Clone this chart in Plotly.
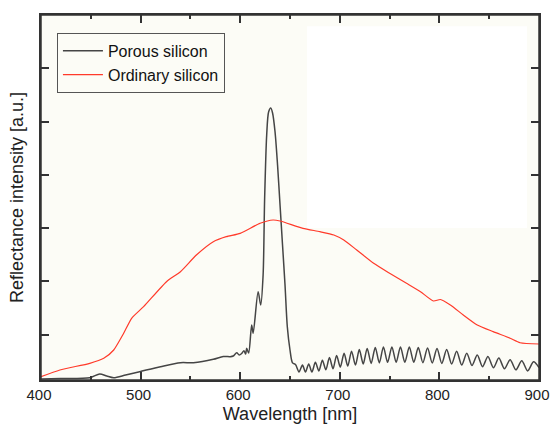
import plotly.graph_objects as go

# Porous silicon (wavelength nm, reflectance a.u.)
porous_wl = [400, 420, 449, 459, 466, 473, 485, 499, 520, 540, 553, 573, 583, 590, 593,
             596.5, 599, 601.5, 603.8, 605.5, 606.5, 608.5, 611.5, 613, 618, 620.6,
             623, 624.5, 626.6, 628.5, 630.7, 632.5, 635, 637.5, 640, 642.5, 645, 647.3,
             650, 652.5, 655.5, 659, 662.5, 665.5, 668.8, 672, 675.5, 679, 682.5, 686,
             689.6, 693.2, 696.8, 700.5, 704.3, 708, 711.8, 715.7, 719.6, 723.5, 727.5,
             731.5, 735.6, 739.7, 743.8, 748, 752.3, 756.6, 760.9, 765.3, 769.8, 774.3,
             778.8, 783.4, 788.1, 792.8, 797.6, 802.4, 807.3, 812.3, 817.3, 822.4, 827.5,
             832.7, 838, 843.3, 848.7, 854.2, 859.7, 865.3, 871, 876.8, 882.7, 888.6,
             894.6, 900]
porous_val = [170, 177, 192, 262, 224, 192, 243, 305, 399, 474, 474, 537, 590, 587, 600,
              661, 618, 646, 699, 636, 744, 656, 1181, 1025, 1806, 1557,
              2120, 3528, 4748, 5179, 5254, 5161, 4804, 4184, 3434, 2683, 1932, 1149,
              712, 470, 440, 300, 430, 300, 450, 300, 480, 320, 520, 340,
              570, 360, 610, 390, 650, 410, 690, 430, 720, 450, 740,
              460, 760, 470, 770, 480, 770, 480, 770, 480, 770, 480,
              760, 475, 750, 470, 740, 460, 720, 450, 690, 430, 650,
              420, 620, 400, 590, 380, 560, 360, 530, 340, 510, 320,
              490, 380]

# Ordinary silicon
ordinary_wl = [400, 419, 449, 463, 473, 483, 491, 503, 526, 540, 556, 573, 586, 600, 620,
               633, 640, 663, 680, 694, 704, 717, 734, 750, 767, 781, 794, 801, 811,
               824, 838, 854, 871, 881, 900]
ordinary_val = [211, 337, 462, 556, 712, 1025, 1307, 1525, 1994, 2182, 2495, 2745, 2839,
                2902, 3090, 3152, 3133, 2996, 2933, 2871, 2777, 2589, 2339, 2152, 1964,
                1806, 1632, 1660, 1557, 1369, 1181, 1056, 932, 849, 825]

x_ticks = [400, 500, 600, 700, 800, 900]

FONT = "Liberation Sans, Arial, sans-serif"
AX = "#333333"

fig = go.Figure()
fig.add_trace(go.Scatter(x=porous_wl, y=porous_val, mode="lines", name="Porous silicon",
                         line=dict(color="#454545", width=1.5, shape="spline", smoothing=0.8)))
fig.add_trace(go.Scatter(x=ordinary_wl, y=ordinary_val, mode="lines", name="Ordinary silicon",
                         line=dict(color="#ff3a2a", width=1.2, shape="spline", smoothing=0.6)))

fig.update_layout(
    width=550, height=430,
    margin=dict(l=41, r=11, t=15, b=50),
    paper_bgcolor="#ffffff",
    plot_bgcolor="#fcfcf6",
    font=dict(family=FONT, color="#222222"),
    showlegend=True,
    legend=dict(x=0.032, y=0.951, xanchor="left", yanchor="top",
                bgcolor="#fcfcf6", bordercolor="#555555", borderwidth=1,
                font=dict(size=16, family=FONT, color="#111111"),
                tracegroupgap=0, itemwidth=40),
    shapes=[
        dict(type="rect", xref="x", yref="y", x0=667, x1=888, y0=3000, y1=6790,
             fillcolor="#ffffff", line=dict(width=0), layer="below"),
        dict(type="rect", xref="paper", yref="paper", x0=0, x1=1, y0=0, y1=1,
             line=dict(color=AX, width=1.5), fillcolor="rgba(0,0,0,0)", layer="above"),
    ],
)
fig.update_xaxes(
    range=[400, 900], tickvals=x_ticks, ticktext=[str(v) for v in x_ticks],
    automargin=False, ticklabeloverflow="allow", ticklabelshift=-2,
    ticks="inside", ticklen=8, tickwidth=1.5, tickcolor=AX,
    showline=True, linecolor=AX, linewidth=1.5, mirror="allticks",
    showgrid=False, zeroline=False,
    tickfont=dict(size=15, family=FONT, color="#222222"),
    minor=dict(ticks="inside", ticklen=4, tickwidth=1.5, tickcolor=AX, dtick=50, tick0=450, showgrid=False),
    title=dict(text="Wavelength [nm]", font=dict(size=18, family=FONT, color="#222222"), standoff=6),
)
fig.update_yaxes(
    range=[149, 7000], tick0=1000, dtick=1000,
    automargin=False,
    ticks="inside", ticklen=8, tickwidth=1.5, tickcolor=AX,
    showline=True, linecolor=AX, linewidth=1.5, mirror="allticks",
    showgrid=False, zeroline=False, showticklabels=False,
    title=dict(text="Reflectance intensity [a.u.]", font=dict(size=18, family=FONT, color="#222222"), standoff=11),
)

fig.write_html("out.html")
